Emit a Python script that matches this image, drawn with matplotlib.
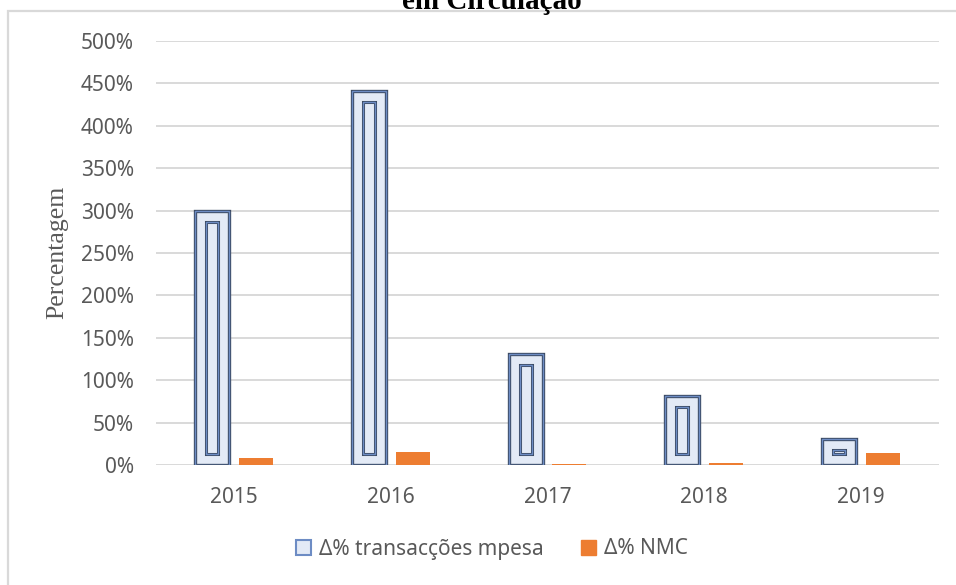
import numpy as np
import matplotlib
matplotlib.use('Agg')
import matplotlib.pyplot as plt
from matplotlib.patches import Patch, Rectangle
from matplotlib.ticker import PercentFormatter, MultipleLocator

# data
years = ['2015', '2016', '2017', '2018', '2019']
mpesa = [2.99, 4.41, 1.31, 0.81, 0.31]   # delta % transaccoes mpesa
nmc = [0.08, 0.155, 0.015, 0.02, 0.14]   # delta % NMC

label_mpesa = 'Δ% transacções mpesa'
label_nmc = 'Δ% NMC'

grey = '#595959'
fill_blue = '#e3eaf6'
edge_dark = '#3b4a62'
edge_blue = '#6d8cc4'
orange = '#ed7d31'

fig = plt.figure(figsize=(9.56, 5.85), dpi=100)
ax = fig.add_axes([156 / 956, 1 - 465 / 585, (939 - 156) / 956, (465 - 41) / 585])

x = np.arange(len(years))
w = 0.217
off = 0.14
inset_x = 0.07      # inner outline inset (category units)
inset_y = 0.13      # inner outline inset (value units)

# outer mpesa bars (double border look)
ax.bar(x - off, mpesa, w, facecolor=fill_blue, edgecolor=edge_dark, linewidth=2.4, zorder=3)
ax.bar(x - off, mpesa, w, facecolor='none', edgecolor=edge_blue, linewidth=1.0, zorder=3)
inner_h = [v - 2 * inset_y for v in mpesa]
ax.bar(x - off, inner_h, w - 2 * inset_x, bottom=inset_y, facecolor='none',
       edgecolor=edge_dark, linewidth=2.2, zorder=4)
ax.bar(x - off, inner_h, w - 2 * inset_x, bottom=inset_y, facecolor='none',
       edgecolor=edge_blue, linewidth=1.0, zorder=4)

ax.bar(x + off, nmc, w, color=orange, zorder=3)

ax.set_xlim(-0.5, len(years) - 0.5)
ax.set_ylim(0, 5.0)
ax.yaxis.set_major_locator(MultipleLocator(0.5))
ax.yaxis.set_major_formatter(PercentFormatter(1.0, decimals=0))
ax.set_xticks(x)
ax.set_xticklabels(years)

ax.grid(axis='y', color='#d9d9d9', linewidth=1.4, zorder=0)
ax.set_axisbelow(True)
for s in ax.spines.values():
    s.set_visible(False)
ax.tick_params(length=0, labelsize=15, labelcolor=grey, labelfontfamily='Noto Sans')
ax.tick_params(axis='x', pad=16)
ax.tick_params(axis='y', pad=16)

fig.text(57 / 956, 1 - 252 / 585, 'Percentagem', rotation=90, ha='center', va='center',
         fontsize=18.5, color=grey, family='Liberation Serif')

# clipped chart title at the very top
fig.text(492 / 956, 1 - 9 / 585, 'em Circulação', ha='center', va='baseline',
         fontsize=21, fontweight='bold', family='Liberation Serif', color='black')

# chart border (only left and top edges are visible)
fig.add_artist(Rectangle((8 / 956, -0.05), 1.1, 1 - 11 / 585 + 0.05, transform=fig.transFigure,
                         facecolor='none', edgecolor='#d9d9d9', linewidth=1.6))

handles = [Patch(facecolor=fill_blue, edgecolor=edge_blue, linewidth=1.5),
           Patch(facecolor=orange, edgecolor=orange)]
leg = fig.legend(handles, [label_mpesa, label_nmc], loc='center',
                 bbox_to_anchor=(492 / 956, 1 - 549 / 585), ncol=2, frameon=False,
                 handlelength=0.7, handleheight=0.7, handletextpad=0.4, columnspacing=1.8,
                 prop={'family': 'Noto Sans', 'size': 15})
for t in leg.get_texts():
    t.set_color(grey)

fig.savefig('out.png', dpi=100)
